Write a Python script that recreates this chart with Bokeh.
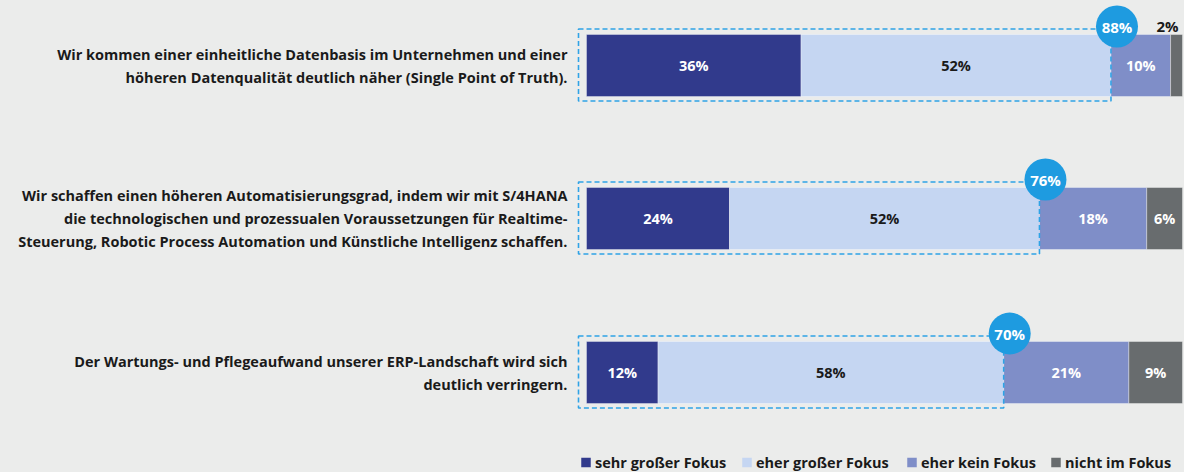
from bokeh.plotting import figure
from bokeh.models import Range1d, ColumnDataSource
from bokeh.core.properties import value
from bokeh.embed import file_html
from bokeh.resources import INLINE

# ---------------- data ----------------
categories = [
    "Wir kommen einer einheitliche Datenbasis im Unternehmen und einer\nhöheren Datenqualität deutlich näher (Single Point of Truth).",
    "Wir schaffen einen höheren Automatisierungsgrad, indem wir mit S/4HANA\ndie technologischen und prozessualen Voraussetzungen für Realtime-\nSteuerung, Robotic Process Automation und Künstliche Intelligenz schaffen.",
    "Der Wartungs- und Pflegeaufwand unserer ERP-Landschaft wird sich\ndeutlich verringern.",
]
series_names = ["sehr großer Fokus", "eher großer Fokus", "eher kein Fokus", "nicht im Fokus"]
sehr_gross = [36, 24, 12]
eher_gross = [52, 52, 58]
eher_kein = [10, 18, 21]
nicht = [2, 6, 9]
highlight = [88, 76, 70]

# ---------------- style ----------------
BG = "#EBECEB"
COLORS = ["#313A8C", "#C5D6F2", "#7F8EC8", "#686C6E"]
TEXT_COLORS = ["#FFFFFF", "#1A1A1A", "#FFFFFF", "#FFFFFF"]
ACCENT = "#1E9BE0"
DASH = "#2FA3E6"
FONT = value("Open Sans")
W, H = 1184, 472
PX_PER_PCT = 5.96
X0 = 586  # pixel where 0% sits

series = [sehr_gross, eher_gross, eher_kein, nicht]
bar_y = [65, 218, 372]   # layout positions (pixels from top)
bar_h = 62

p = figure(width=W, height=H, output_backend="svg", toolbar_location=None,
           x_range=Range1d(-X0 / PX_PER_PCT, (W - X0) / PX_PER_PCT),
           y_range=Range1d(H, 0), min_border=0)
p.axis.visible = False
p.grid.visible = False
p.outline_line_color = None
p.background_fill_color = BG
p.border_fill_color = BG

# stacked segments
lefts = [0, 0, 0]
for k, vals in enumerate(series):
    rights = [l + v for l, v in zip(lefts, vals)]
    src = ColumnDataSource(dict(y=bar_y, left=lefts, right=rights, v=vals,
                                mid=[(l + r) / 2 for l, r in zip(lefts, rights)],
                                lab=[f"{v}%" for v in vals]))
    p.hbar(y="y", left="left", right="right", height=bar_h, source=src,
           fill_color=COLORS[k], line_color="#FFFFFF", line_alpha=0.35, line_width=1)
    inside = [i for i, v in enumerate(vals) if v >= 4]
    outside = [i for i, v in enumerate(vals) if v < 4]
    if inside:
        p.text(x=[src.data["mid"][i] for i in inside], y=[bar_y[i] for i in inside],
               text=[src.data["lab"][i] for i in inside],
               text_font=FONT, text_font_style="bold", text_font_size="14.5px",
               text_align="center", text_baseline="middle", text_color=TEXT_COLORS[k])
    if outside:
        p.text(x=[rights[i] for i in outside], y=[bar_y[i] - bar_h / 2 - 9 for i in outside],
               text=[src.data["lab"][i] for i in outside],
               text_font=FONT, text_font_style="bold", text_font_size="15px",
               text_align="right", text_baseline="middle", text_color="#1A1A1A",
               x_offset=-4)
    lefts = rights

# dashed highlight boxes
pad_l = 8 / PX_PER_PCT
p.quad(left=[-pad_l] * 3, right=highlight,
       top=[y - bar_h / 2 - 5.5 for y in bar_y], bottom=[y + bar_h / 2 + 4.5 for y in bar_y],
       fill_alpha=0, line_color=DASH, line_width=1.6, line_dash="5 3")

# circle badges
cx = [h + 6 / PX_PER_PCT for h in highlight]
cy = [y - bar_h / 2 - 8 for y in bar_y]
p.circle(x=cx, y=cy, radius=21, radius_units="screen", fill_color=ACCENT, line_color=None)
p.text(x=cx, y=cy, text=[f"{h}%" for h in highlight], text_font=FONT,
       text_font_style="bold", text_font_size="15px", text_align="center",
       text_baseline="middle", text_color="#FFFFFF")

# category labels (right aligned, line by line)
lx, ly, lt = [], [], []
for cat, y in zip(categories, bar_y):
    lines = cat.split("\n")
    n = len(lines)
    for i, line in enumerate(lines):
        lx.append(0)
        ly.append(y + (i - (n - 1) / 2) * 23)
        lt.append(line)
p.text(x=lx, y=ly, text=lt, x_offset=-19, text_font=FONT, text_font_style="bold",
       text_font_size="14.5px", text_align="right", text_baseline="middle", text_color="#1A1A1A")

# legend (manual)
leg_px = [585.5, 746.5, 911.5, 1055.5]
leg_x = [(px - X0) / PX_PER_PCT for px in leg_px]
leg_y = 462
p.scatter(x=leg_x, y=[leg_y] * 4, marker="square", size=9.5, fill_color=COLORS, line_color=None)
p.text(x=leg_x, y=[leg_y] * 4, text=series_names, x_offset=9, text_font=FONT,
       text_font_style="bold", text_font_size="14.5px", text_align="left",
       text_baseline="middle", text_color="#1A1A1A")

html = file_html(p, INLINE)
html = html.replace("</head>", "<style>html,body{margin:0 !important;padding:0;background:%s;overflow:hidden}</style></head>" % BG, 1)
open("out.html", "w").write(html)
